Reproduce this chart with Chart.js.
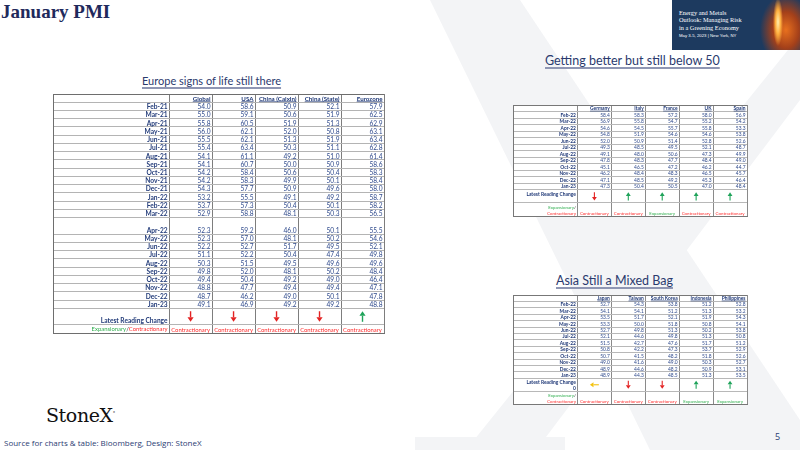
<!DOCTYPE html>
<html>
<head>
<meta charset="utf-8">
<script src="https://cdn.jsdelivr.net/npm/chart.js@4.4.1/dist/chart.umd.min.js"></script>
<style>
  body { margin: 0; width: 800px; height: 450px; position: relative; overflow: hidden; background: #fff; font-family: Lato, sans-serif; }
  .abs { position: absolute; }
  #title { left: 1px; top: 1px; font: bold 19px "Liberation Serif", serif; color: #1f2a5c; }
  .sub { color: #2b3a6e; text-decoration: underline; text-decoration-color: #8f96b3; text-decoration-thickness: 2px; text-underline-offset: 2px; white-space: nowrap; font-family: Lato, sans-serif; }
  #banner { left: 672px; top: 0; width: 128px; height: 50px;
    background: radial-gradient(ellipse 5px 24px at 106px 22px, #fff0b0 0%, #ffb040 50%, rgba(240,120,30,0) 100%),
                radial-gradient(ellipse 26px 36px at 114px 30px, #e8701e 0%, #a4401a 50%, rgba(29,58,95,0) 100%), #1d3a5f; }
  #banner .t { position: absolute; left: 7px; top: 9px; color: #fff; font: 6.3px/7.4px "Liberation Serif", serif; }
  #banner .d { position: absolute; left: 7px; top: 33px; color: #fff; font: 4.3px "Liberation Sans", sans-serif; }
  #logo { left: 46px; top: 404px; font: 19px "DejaVu Serif", serif; color: #111; letter-spacing: -0.4px; }
  #source { left: 4px; top: 437px; font: 8px "Open Sans", sans-serif; color: #2c3d73; }
  #page { left: 775px; top: 430px; font: 9px "Open Sans", sans-serif; color: #2c3d73; }
  canvas { position: absolute; }
</style>
</head>
<body>
<svg class="abs" style="left:0;top:0" width="800" height="450">
  <polygon points="430,0 520,0 800,420 800,450 650,450" fill="#f3f4f6"/>
  <polygon points="800,35 800,100 540,445 470,445" fill="#f3f4f6"/>
  <rect x="415" y="437" width="150" height="13" fill="#f3f4f6"/>
</svg>
<div id="title" class="abs">January PMI</div>
<div id="banner" class="abs">
  <div class="t">Energy and Metals<br>Outlook: Managing Risk<br>in a Greening Economy</div>
  <div class="d">May 3-5, 2023 | New York, NY</div>
</div>
<div class="abs sub" style="left:142px;top:74px;font-size:11px">Europe signs of life still there</div>
<div class="abs sub" style="left:545px;top:53px;font-size:12.5px">Getting better but still below 50</div>
<div class="abs sub" style="left:556px;top:273px;font-size:12.5px">Asia Still a Mixed Bag</div>
<div id="logo" class="abs">StoneX<sup style="font-size:5px">°</sup></div>
<div id="source" class="abs">Source for charts &amp; table: Bloomberg, Design: StoneX</div>
<div id="page" class="abs">5</div>

<canvas id="europe"></canvas>
<canvas id="euro2"></canvas>
<canvas id="asia"></canvas>

<script>
// ---- Europe signs of life still there ----
const euMonths = ['Feb-21','Mar-21','Apr-21','May-21','Jun-21','Jul-21','Aug-21','Sep-21','Oct-21','Nov-21','Dec-21','Jan-22',
  'Feb-22','Mar-22','Apr-22','May-22','Jun-22','Jul-22','Aug-22','Sep-22','Oct-22','Nov-22','Dec-22','Jan-23'];
const euColumns = ['Global','USA','China (Caixin)','China (State)','Eurozone'];
const global = [54.0,55.0,55.8,56.0,55.5,55.4,54.1,54.1,54.2,54.2,54.3,53.2,53.7,52.9,52.3,52.3,52.2,51.1,50.3,49.8,49.4,48.8,48.7,49.1];
const usa = [58.6,59.1,60.5,62.1,62.1,63.4,61.1,60.7,58.4,58.3,57.7,55.5,57.3,58.8,59.2,57.0,52.7,52.2,51.5,52.0,50.4,47.7,46.2,46.9];
const chinaCaixin = [50.9,50.6,51.9,52.0,51.3,50.3,49.2,50.0,50.6,49.9,50.9,49.1,50.4,48.1,46.0,48.1,51.7,50.4,49.5,48.1,49.2,49.4,49.0,49.2];
const chinaState = [52.1,51.9,51.3,50.8,51.9,51.1,51.0,50.9,50.4,50.1,49.6,49.2,50.1,50.3,50.1,50.2,49.5,47.4,49.6,50.2,49.0,49.4,50.1,49.2];
const eurozone = [57.9,62.5,62.9,63.1,63.4,62.8,61.4,58.6,58.3,58.4,58.0,58.7,58.2,56.5,55.5,54.6,52.1,49.8,49.6,48.4,46.4,47.1,47.8,48.8];
const euArrows = ['down','down','down','down','up'];
const euStatus = ['Contractionary','Contractionary','Contractionary','Contractionary','Contractionary'];

// ---- Getting better but still below 50 ----
const months22 = ['Feb-22','Mar-22','Apr-22','May-22','Jun-22','Jul-22','Aug-22','Sep-22','Oct-22','Nov-22','Dec-22','Jan-23'];
const ecColumns = ['Germany','Italy','France','UK','Spain'];
const germany = [58.4,56.9,54.6,54.8,52.0,49.3,49.1,47.8,45.1,46.2,47.1,47.3];
const italy = [58.3,55.8,54.5,51.9,50.9,48.5,48.0,48.3,46.5,48.4,48.5,50.4];
const france = [57.2,54.7,55.7,54.6,51.4,49.5,50.6,47.7,47.2,48.3,49.2,50.5];
const uk = [58.0,55.2,55.8,54.6,52.8,52.1,47.3,48.4,46.2,46.5,45.3,47.0];
const spain = [56.9,54.2,53.3,53.8,52.6,48.7,49.9,49.0,44.7,45.7,46.4,48.4];
const ecArrows = ['down','up','up','up','up'];
const ecStatus = ['Contractionary','Contractionary','Expansionary','Contractionary','Contractionary'];

// ---- Asia Still a Mixed Bag ----
const asColumns = ['Japan','Taiwan','South Korea','Indonesia','Philippines'];
const japan = [52.7,54.1,53.5,53.3,52.7,52.1,51.5,50.8,50.7,49.0,48.9,48.9];
const taiwan = [54.3,54.1,51.7,50.0,49.8,44.6,42.7,42.2,41.5,41.6,44.6,44.3];
const southKorea = [53.8,51.2,52.1,51.8,51.3,49.8,47.6,47.3,48.2,49.0,48.2,48.5];
const indonesia = [51.2,51.3,51.9,50.8,50.2,51.3,51.7,53.7,51.8,50.3,50.9,51.3];
const philippines = [52.8,53.2,54.3,54.1,53.8,50.8,51.2,52.9,52.6,52.7,53.1,53.5];
const asArrows = ['flat','down','down','up','up'];
const asStatus = ['Contractionary','Contractionary','Contractionary','Expansionary','Expansionary'];

const NAVY = '#213a78';
const VALUE = '#2f4a8c';
const RED = '#ff2b2b';
const GREEN = '#2fae4e';
const ARROW = { up: '#1fa35a', down: '#e32222', flat: '#f3c20f' };

function makeTable(id, t) {
  // column / row edges in scale units
  const colEdges = [0, t.labelUnits];
  t.columns.forEach(() => colEdges.push(colEdges[colEdges.length - 1] + 1));
  const rowEdges = [0, 1];
  t.rows.forEach(r => rowEdges.push(rowEdges[rowEdges.length - 1] + (t.tall.includes(r) ? 2 : 1)));
  const lastData = rowEdges[rowEdges.length - 1];
  rowEdges.push(lastData + t.latestUnits);
  rowEdges.push(lastData + t.latestUnits + t.statusUnits);

  const cv = document.getElementById(id);
  cv.width = t.width + 2; cv.height = t.height + 2;
  cv.style.left = (t.left - 1) + 'px'; cv.style.top = (t.top - 1) + 'px';

  const cellText = {
    id: 'cellText',
    beforeDraw(chart) {
      const a = chart.chartArea;
      chart.ctx.save();
      chart.ctx.fillStyle = '#fff';
      chart.ctx.fillRect(a.left, a.top, a.right - a.left, a.bottom - a.top);
      chart.ctx.restore();
    },
    afterDraw(chart) {
      const ctx = chart.ctx, xs = chart.scales.x, ys = chart.scales.y;
      const px = v => xs.getPixelForValue(v), py = v => ys.getPixelForValue(v);
      const fs = t.font;
      ctx.save();
      ctx.textBaseline = 'alphabetic';
      ctx.textAlign = 'right';
      // headers
      ctx.font = `bold ${t.headFont}px Lato`;
      ctx.fillStyle = NAVY;
      t.columns.forEach((c, j) => {
        const xr = px(colEdges[j + 2]) - 1.5, yb = py(1) - 1.6;
        ctx.fillText(c, xr, yb);
        const w = ctx.measureText(c).width;
        ctx.fillRect(xr - w, yb + 0.8, w, 0.6);
      });
      // row labels and values
      t.rows.forEach((r, i) => {
        const yb = py(rowEdges[i + 2]) - 1.4;
        ctx.font = `bold ${fs}px Lato`;
        ctx.fillStyle = NAVY;
        ctx.fillText(r, px(t.labelUnits) - 1.5, yb);
        ctx.font = `${fs}px Lato`;
        ctx.fillStyle = VALUE;
        t.values.forEach((col, j) => ctx.fillText(col[i].toFixed(1), px(colEdges[j + 2]) - 1.5, yb));
      });
      // latest reading change
      const n = t.rows.length;
      const lTop = py(rowEdges[n + 1]), lBot = py(rowEdges[n + 2]);
      ctx.font = `bold ${fs}px Lato`;
      ctx.fillStyle = NAVY;
      t.latestLabel.forEach((s, k) => {
        const yb = t.latestTop ? lTop + fs * 1.2 * (k + 1) : lBot - 1.4 - (t.latestLabel.length - 1 - k) * fs * 1.1;
        ctx.fillText(s, px(t.labelUnits) - 1.5, yb);
      });
      t.arrows.forEach((a, j) => {
        const cx = (px(colEdges[j + 1]) + px(colEdges[j + 2])) / 2;
        const h = (lBot - lTop);
        ctx.fillStyle = ARROW[a];
        ctx.strokeStyle = ARROW[a];
        ctx.lineWidth = t.arrowW;
        const head = h * 0.28, hw = t.arrowW * 2.2;
        if (a === 'flat') {
          const cy = (lTop + lBot) / 2, half = h * 0.35;
          ctx.beginPath(); ctx.moveTo(cx + half, cy); ctx.lineTo(cx - half + head, cy); ctx.stroke();
          ctx.beginPath(); ctx.moveTo(cx - half, cy); ctx.lineTo(cx - half + head, cy - hw); ctx.lineTo(cx - half + head, cy + hw); ctx.fill();
        } else {
          const y0 = lTop + h * 0.18, y1 = lTop + h * 0.82;
          const tip = a === 'up' ? y0 : y1, tail = a === 'up' ? y1 : y0, dir = a === 'up' ? 1 : -1;
          ctx.beginPath(); ctx.moveTo(cx, tail); ctx.lineTo(cx, tip + dir * head); ctx.stroke();
          ctx.beginPath(); ctx.moveTo(cx, tip); ctx.lineTo(cx - hw, tip + dir * head); ctx.lineTo(cx + hw, tip + dir * head); ctx.fill();
        }
      });
      // expansionary / contractionary
      const sBot = py(rowEdges[n + 3]);
      const sf = t.statusFont;
      ctx.font = `${sf}px Lato`;
      const xr = px(t.labelUnits) - 1.5;
      if (t.statusTwoLines) {
        ctx.fillStyle = RED;
        ctx.fillText('Contractionary', xr, sBot - 1.4);
        ctx.fillStyle = '#222';
        ctx.fillText('/', xr, sBot - 1.4 - sf * 1.3);
        const sw = ctx.measureText('/').width;
        ctx.fillStyle = GREEN;
        ctx.fillText('Expansionary', xr - sw, sBot - 1.4 - sf * 1.3);
      } else {
        ctx.fillStyle = RED;
        ctx.fillText('Contractionary', xr, sBot - 1.6);
        const w1 = ctx.measureText('Contractionary').width;
        ctx.fillStyle = '#222';
        ctx.fillText('/', xr - w1, sBot - 1.6);
        const w2 = ctx.measureText('/').width;
        ctx.fillStyle = GREEN;
        ctx.fillText('Expansionary', xr - w1 - w2, sBot - 1.6);
      }
      ctx.textAlign = 'center';
      t.status.forEach((s, j) => {
        const cx = (px(colEdges[j + 1]) + px(colEdges[j + 2])) / 2;
        ctx.fillStyle = s === 'Expansionary' ? GREEN : RED;
        ctx.fillText(s, cx, sBot - 1.4);
      });
      ctx.restore();
    }
  };

  new Chart(cv, {
    type: 'scatter',
    data: { datasets: [] },
    options: {
      responsive: false,
      animation: false,
      events: [],
      layout: { padding: 1 },
      plugins: { legend: { display: false }, tooltip: { enabled: false } },
      scales: {
        x: {
          type: 'linear', min: 0, max: colEdges[colEdges.length - 1],
          afterBuildTicks: s => { s.ticks = colEdges.map(v => ({ value: v })); },
          ticks: { display: false },
          grid: { color: t.colGrid, lineWidth: 1, drawTicks: false },
          border: { color: t.edge, width: 1 }
        },
        y: {
          type: 'linear', reverse: true, min: 0, max: rowEdges[rowEdges.length - 1],
          afterBuildTicks: s => { s.ticks = rowEdges.map(v => ({ value: v })); },
          ticks: { display: false },
          grid: { color: ctx => (ctx.tick && (ctx.tick.value === 0) ? t.edge : t.rowGrid), lineWidth: 1, drawTicks: false },
          border: { color: t.edge, width: 1 }
        }
      }
    },
    plugins: [cellText]
  });
}

makeTable('europe', {
  left: 53, top: 94, width: 331, height: 239,
  labelUnits: 2.7, columns: euColumns, rows: euMonths,
  values: [global, usa, chinaCaixin, chinaState, eurozone],
  tall: ['Apr-22'], latestUnits: 2, statusUnits: 1,
  arrows: euArrows, status: euStatus,
  latestLabel: ['Latest Reading Change'], latestTop: false, statusTwoLines: false,
  font: 6.6, headFont: 6.2, statusFont: 5.9, arrowW: 1.4,
  colGrid: '#7d7d7d', rowGrid: '#b4b4b4', edge: '#6e6e6e'
});

makeTable('euro2', {
  left: 513, top: 105, width: 234, height: 111,
  labelUnits: 1.9, columns: ecColumns, rows: months22,
  values: [germany, italy, france, uk, spain],
  tall: [], latestUnits: 2, statusUnits: 2,
  arrows: ecArrows, status: ecStatus,
  latestLabel: ['Latest Reading Change'], latestTop: true, statusTwoLines: true,
  font: 4.9, headFont: 4.9, statusFont: 4.4, arrowW: 1.1,
  colGrid: '#8a8a8a', rowGrid: '#b8b8b8', edge: '#777'
});

makeTable('asia', {
  left: 513, top: 295, width: 234, height: 109,
  labelUnits: 1.9, columns: asColumns, rows: months22,
  values: [japan, taiwan, southKorea, indonesia, philippines],
  tall: [], latestUnits: 2, statusUnits: 2,
  arrows: asArrows, status: asStatus,
  latestLabel: ['Latest Reading Change', '0'], latestTop: true, statusTwoLines: true,
  font: 4.9, headFont: 4.9, statusFont: 4.4, arrowW: 1.1,
  colGrid: '#8a8a8a', rowGrid: '#b8b8b8', edge: '#777'
});
</script>
</body>
</html>
